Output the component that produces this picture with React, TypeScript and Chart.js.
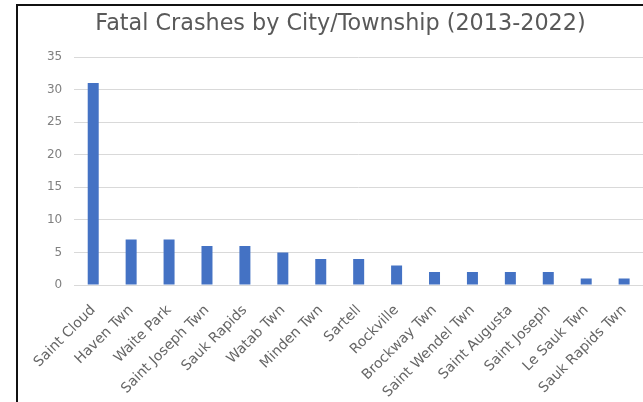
import React, { useEffect, useRef } from "react";
import { Chart, registerables } from "chart.js";

Chart.register(...registerables);

const categories: string[] = [
  "Saint Cloud",
  "Haven Twn",
  "Waite Park",
  "Saint Joseph Twn",
  "Sauk Rapids",
  "Watab Twn",
  "Minden Twn",
  "Sartell",
  "Rockville",
  "Brockway Twn",
  "Saint Wendel Twn",
  "Saint Augusta",
  "Saint Joseph",
  "Le Sauk Twn",
  "Sauk Rapids Twn",
];

const fatalCrashes: number[] = [31, 7, 7, 6, 6, 5, 4, 4, 3, 2, 2, 2, 2, 1, 1];

const yTicks: number[] = [0, 5, 10, 15, 20, 25, 30, 35];

const titleText = "Fatal Crashes by City/Township (2013-2022)";

const FONT = "'DejaVu Sans', Verdana, sans-serif";

export default function App() {
  const canvasRef = useRef<HTMLCanvasElement | null>(null);

  useEffect(() => {
    if (!canvasRef.current) return;
    const chart = new Chart(canvasRef.current, {
      type: "bar",
      data: {
        labels: categories,
        datasets: [
          {
            label: "Fatal Crashes",
            data: fatalCrashes,
            backgroundColor: "#4472C4",
            borderWidth: 0,
            barPercentage: 0.29,
            categoryPercentage: 1,
          },
        ],
      },
      options: {
        animation: false,
        responsive: false,
        maintainAspectRatio: false,
        layout: { padding: { left: 10, right: 0, top: 0, bottom: 0 } },
        plugins: {
          legend: { display: false },
          tooltip: { enabled: false },
          title: {
            display: true,
            text: titleText,
            color: "#595959",
            font: { family: FONT, size: 22.3, weight: "normal" },
            padding: { top: 5, bottom: 19.3 },
          },
        },
        scales: {
          x: {
            grid: { display: false, drawTicks: false },
            border: { display: true, color: "#d9d9d9", width: 1 },
            ticks: {
              color: "#666666",
              font: { family: FONT, size: 14 },
              minRotation: 45,
              maxRotation: 45,
              autoSkip: false,
              padding: 17,
            },
            afterFit: (scale: any) => {
              scale.height = 117;
            },
          },
          y: {
            min: 0,
            max: 35,
            afterBuildTicks: (scale: any) => {
              scale.ticks = yTicks.map((v) => ({ value: v }));
            },
            grid: { color: "#d9d9d9", drawTicks: false, lineWidth: 1 },
            border: { display: false },
            ticks: {
              color: "#808080",
              font: { family: FONT, size: 12 },
              padding: 12,
            },
            afterFit: (scale: any) => {
              scale.width = 46;
            },
          },
        },
      },
    });
    return () => chart.destroy();
  }, []);

  return (
    <div
      style={{
        position: "fixed",
        left: 0,
        top: 0,
        width: 643,
        height: 402,
        overflow: "hidden",
        background: "#ffffff",
      }}
    >
      <div
        style={{
          position: "absolute",
          left: 16,
          top: 4,
          width: 700,
          height: 420,
          borderLeft: "2px solid #111",
          borderTop: "2px solid #111",
          background: "#fff",
        }}
      />
      <canvas
        ref={canvasRef}
        width={635}
        height={396}
        style={{ position: "absolute", left: 18, top: 6, width: 635, height: 396 }}
      />
    </div>
  );
}
